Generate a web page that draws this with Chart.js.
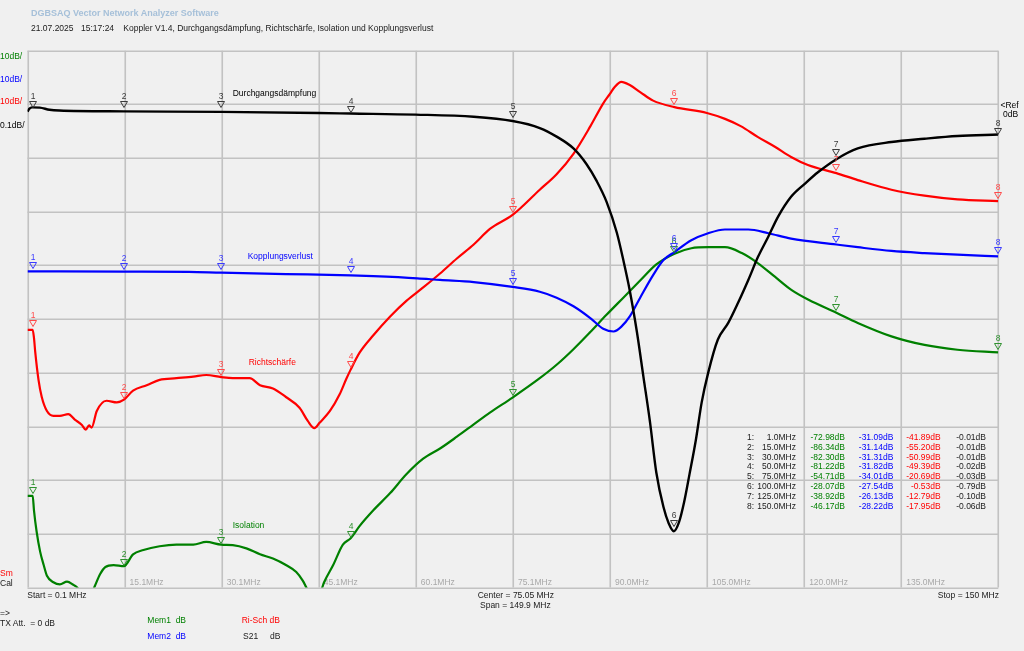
<!DOCTYPE html>
<html><head><meta charset="utf-8">
<script src="https://cdn.jsdelivr.net/npm/chart.js@4.4.1/dist/chart.umd.min.js"></script>
<style>
html,body{margin:0;padding:0;background:#f0f0f0;overflow:hidden;}
#wrap{position:relative;width:1024px;height:651px;background:#f0f0f0;}
canvas{display:block;position:absolute;left:0;top:0;}
.t{position:absolute;font-family:"Liberation Sans",Arial,sans-serif;font-size:8.5px;line-height:12px;height:12px;white-space:pre;color:#202020;}
</style></head><body>
<div id="wrap"><canvas id="c" width="1024" height="651"></canvas></div>
<script>
// ---------- data ----------
const xStart = 0.1, xStop = 150;
const xTickLabels = ['15.1MHz','30.1MHz','45.1MHz','60.1MHz','75.1MHz','90.0MHz','105.0MHz','120.0MHz','135.0MHz'];

const freqIso = [0.1,0.9,1.1,1.5,2.05,2.6,3.1,4.1,5.1,6.2,7.2,7.8,8.5,9.5,10.2,10.5,11.3,12.1,13.4,15.0,16.4,18.0,20.5,23.1,25.7,27.7,30.0,31.8,33.9,36.0,38.0,40.0,41.6,42.6,43.4,44.5,45.5,45.9,47.3,48.8,50.0,51.4,53.5,56.1,58.6,61.2,63.8,66.4,69.0,71.5,75.0,79.2,81.8,84.4,87.0,89.5,92.1,94.7,97.2,100.0,102.6,105.2,107.8,110.4,112.9,115.5,118.1,120.7,125.0,128.3,133.5,138.6,143.7,150.0];
const isolation = [-72.9,-72.9,-75.6,-79.5,-83.3,-85.8,-87.8,-89.0,-89.4,-88.9,-89.5,-90.0,-91.5,-92.0,-90.5,-89.7,-87.5,-86.2,-85.8,-86.0,-83.8,-83.0,-82.3,-82.0,-82.0,-81.5,-82.0,-82.1,-82.7,-83.8,-84.6,-85.8,-87.1,-88.7,-90.5,-92.0,-90.3,-89.0,-85.8,-82.0,-80.8,-78.5,-75.6,-72.4,-68.9,-66.0,-64.1,-61.9,-59.6,-57.4,-54.6,-51.0,-48.5,-45.6,-42.4,-39.2,-36.0,-32.8,-29.8,-27.8,-26.8,-26.6,-26.6,-27.7,-29.6,-32.1,-34.6,-36.4,-38.8,-40.7,-43.2,-44.8,-45.7,-46.2];

const freqCoup = [0.1,15.0,25.0,30.0,40.0,50.0,53.5,60.3,63.8,69.0,75.0,79.2,81.8,84.4,87.0,89.0,90.6,91.8,93.1,94.7,96.7,98.3,100.0,102.6,105.2,107.8,111.4,114.5,118.0,125.0,128.3,133.5,138.6,143.7,150.0];
const coupling = [-31.1,-31.15,-31.2,-31.35,-31.6,-31.85,-32.0,-32.4,-32.7,-33.1,-34.0,-34.9,-36.0,-37.6,-39.8,-41.8,-42.3,-41.4,-39.5,-36.0,-31.8,-29.0,-27.5,-25.3,-24.0,-23.3,-23.3,-24.0,-25.0,-26.1,-26.6,-27.3,-27.7,-28.0,-28.3];

const freqDir = [0.1,0.9,1.1,1.3,1.8,2.3,3.1,4.1,5.1,6.4,7.4,8.5,9.1,9.6,10.0,10.8,12.3,13.9,15.0,16.4,18.5,20.5,23.1,25.7,27.7,30.0,31.8,34.4,36.0,38.0,40.0,42.1,43.4,44.4,45.2,46.8,48.3,49.3,50.0,51.4,53.5,56.1,58.6,61.2,63.8,66.4,69.0,71.5,75.0,79.2,81.8,84.4,87.0,89.0,90.0,90.8,91.8,93.1,94.7,96.7,100.0,105.0,107.8,110.3,112.9,115.5,118.0,120.6,125.0,128.3,133.5,138.6,143.7,150.0];
const directivity = [-42.0,-42.0,-43.5,-46.2,-51.3,-54.5,-57.1,-58.0,-58.0,-57.7,-58.7,-59.7,-60.6,-59.8,-60.2,-57.1,-55.2,-55.5,-55.0,-53.3,-52.3,-51.3,-51.0,-50.7,-50.4,-50.8,-51.0,-51.0,-52.3,-52.9,-54.5,-56.5,-59.0,-60.3,-59.3,-57.1,-54.0,-51.2,-49.4,-46.2,-43.0,-39.5,-36.6,-34.1,-31.5,-28.7,-26.1,-23.2,-20.6,-15.9,-13.0,-9.2,-4.1,0.2,1.9,3.3,4.2,3.6,2.3,0.7,-0.5,-1.6,-2.7,-4.1,-6.1,-7.9,-9.8,-11.3,-12.8,-14.1,-15.9,-17.0,-17.7,-18.0];

const freqS21 = [0.1,0.4,0.8,2.0,3.5,5.0,15.0,30.0,45.0,50.0,60.0,69.0,75.0,79.2,81.8,84.4,86.4,88.0,89.5,91.1,92.1,93.1,94.2,95.2,96.2,97.2,98.3,99.1,99.9,100.7,101.5,102.3,103.3,104.2,105.2,106.7,108.3,109.8,111.4,112.9,114.5,116.0,118.0,120.2,122.2,125.0,128.3,133.5,138.6,143.7,150.0];
const s21 = [-0.0136,-0.008,-0.0055,-0.006,-0.010,-0.0115,-0.013,-0.014,-0.016,-0.017,-0.019,-0.023,-0.031,-0.044,-0.060,-0.082,-0.111,-0.143,-0.181,-0.239,-0.290,-0.347,-0.424,-0.507,-0.590,-0.686,-0.750,-0.780,-0.795,-0.778,-0.740,-0.690,-0.625,-0.555,-0.500,-0.438,-0.407,-0.370,-0.327,-0.284,-0.246,-0.209,-0.172,-0.147,-0.126,-0.102,-0.082,-0.070,-0.064,-0.059,-0.056];

const markerFreqs = [1.0,15.0,30.0,50.0,75.0,100.0,125.0,150.0];
const markerIsolation = [-72.98,-86.34,-82.30,-81.22,-54.71,-28.07,-38.92,-46.17];
const markerCoupling = [-31.09,-31.14,-31.31,-31.82,-34.01,-27.54,-26.13,-28.22];
const markerDirectivity = [-41.89,-55.20,-50.99,-49.39,-20.69,-0.53,-12.79,-17.95];
const markerS21 = [-0.01,-0.01,-0.01,-0.02,-0.03,-0.79,-0.10,-0.06];

const seriesNames = ['Durchgangsdämpfung','Kopplungsverlust','Richtschärfe','Isolation'];

// ---------- colors ----------
const C_GREEN='#008000', C_BLUE='#0000ff', C_RED='#ff0000', C_BLACK='#000000';

function pairs(xs, ys){ return xs.map((x,i)=>({x:x,y:ys[i]})); }

// ---------- plugins ----------
const gridPlugin = {
  id:'vnaGrid',
  beforeDatasetsDraw(chart){
    const {ctx, chartArea:a, scales} = chart;
    const x = scales.x, y = scales.y;
    ctx.save();
    ctx.strokeStyle = '#c2c2c2';
    ctx.lineWidth = 1.6;
    for(let k=0;k<=10;k++){
      const px = Math.round(x.getPixelForValue(xStart + k*(xStop-xStart)/10))+0.25;
      ctx.beginPath(); ctx.moveTo(px,a.top); ctx.lineTo(px,a.bottom); ctx.stroke();
      const py = Math.round(y.getPixelForValue(10 - k*10))+0.25;
      ctx.beginPath(); ctx.moveTo(a.left,py); ctx.lineTo(a.right,py); ctx.stroke();
    }
    ctx.fillStyle = '#a8a8a8';
    ctx.font = '8.5px "Liberation Sans", Arial, sans-serif';
    ctx.textBaseline = 'middle';
    ctx.textAlign = 'left';
    xTickLabels.forEach((lab,i)=>{
      const px = x.getPixelForValue(xStart + (i+1)*(xStop-xStart)/10);
      ctx.fillText(lab, px+5, a.bottom-5);
    });
    ctx.restore();
  },
  afterDatasetsDraw(chart){
    const {ctx, scales} = chart;
    const x = scales.x;
    const sets = [
      {vals:markerIsolation, scale:scales.y, col:'#2f912f'},
      {vals:markerCoupling, scale:scales.y, col:'#3a3aff'},
      {vals:markerDirectivity, scale:scales.y, col:'#ff4a4a'},
      {vals:markerS21, scale:scales.yb, col:'#3a3a3a'}
    ];
    ctx.save();
    ctx.font = '8.5px "Liberation Sans", Arial, sans-serif';
    ctx.textAlign = 'center';
    ctx.textBaseline = 'middle';
    ctx.lineWidth = 1;
    sets.forEach(s=>{
      ctx.strokeStyle = s.col; ctx.fillStyle = s.col;
      markerFreqs.forEach((f,i)=>{
        const px = Math.round(x.getPixelForValue(f));
        const py = Math.round(s.scale.getPixelForValue(s.vals[i]));
        ctx.beginPath();
        ctx.moveTo(px-3.5, py-8.5);
        ctx.lineTo(px+3.5, py-8.5);
        ctx.lineTo(px, py-2.5);
        ctx.closePath();
        ctx.stroke();
        ctx.fillText(String(i+1), px, py-13);
      });
    });
    ctx.restore();
  }
};

const ds = (label, xs, ys, col, axis, w) => ({
  label, data: pairs(xs, ys), borderColor: col, backgroundColor: col,
  yAxisID: axis, borderWidth: w, pointRadius: 0, fill: false,
  cubicInterpolationMode: 'monotone'
});

new Chart(document.getElementById('c').getContext('2d'), {
  type:'line',
  data:{ datasets:[
    ds(seriesNames[0], freqS21, s21, C_BLACK, 'yb', 2.4),
    ds(seriesNames[1], freqCoup, coupling, C_BLUE, 'y', 2.2),
    ds(seriesNames[2], freqDir, directivity, C_RED, 'y', 2.2),
    ds(seriesNames[3], freqIso, isolation, C_GREEN, 'y', 2.2)
  ]},
  options:{
    responsive:false, animation:false, devicePixelRatio:1,
    layout:{padding:{left:27.5, right:25.7, top:50.7, bottom:63.4}},
    scales:{
      x:{type:'linear', min:xStart, max:xStop, display:false},
      y:{type:'linear', min:-90, max:10, display:false},
      yb:{type:'linear', min:-0.9, max:0.1, display:false}
    },
    plugins:{legend:{display:false}, tooltip:{enabled:false}, title:{display:false}},
    events:[]
  },
  plugins:[gridPlugin]
});

// ---------- text overlay ----------
const wrap = document.getElementById('wrap');
function txt(s, x, cy, color, opts){
  opts = opts || {};
  const d = document.createElement('div');
  d.className = 't';
  d.textContent = s;
  d.style.left = x + 'px';
  d.style.top = (cy - 6) + 'px';
  if(color) d.style.color = color;
  if(opts.bold) d.style.fontWeight = 'bold';
  if(opts.size) d.style.fontSize = opts.size + 'px';
  if(opts.align === 'right') d.style.transform = 'translateX(-100%)';
  if(opts.align === 'center') d.style.transform = 'translateX(-50%)';
  wrap.appendChild(d);
}

txt('DGBSAQ Vector Network Analyzer Software', 31, 13.3, '#a6c0d9', {bold:true, size:9});
txt('21.07.2025', 31, 28.3, '#202020');
txt('15:17:24', 81, 28.3, '#202020');
txt('Koppler V1.4, Durchgangsdämpfung, Richtschärfe, Isolation und Kopplungsverlust', 123.3, 28.3, '#202020');

txt('10dB/', 0, 56, C_GREEN);
txt('10dB/', 0, 78.7, C_BLUE);
txt('10dB/', 0, 101, C_RED);
txt('0.1dB/', 0, 125, '#000');

txt('<Ref', 1000.5, 104.5, '#000');
txt('0dB', 1003, 114, '#000');

txt(seriesNames[0], 232.7, 93, '#000');
txt(seriesNames[1], 247.7, 256, C_BLUE);
txt(seriesNames[2], 248.7, 362, C_RED);
txt(seriesNames[3], 232.7, 524.5, C_GREEN);

markerFreqs.forEach((f,i)=>{
  const cy = 436.7 + i*9.9;
  txt((i+1)+':', 754, cy, '#202020', {align:'right'});
  txt(f.toFixed(1)+'MHz', 796, cy, '#202020', {align:'right'});
  txt(markerIsolation[i].toFixed(2)+'dB', 845, cy, C_GREEN, {align:'right'});
  txt(markerCoupling[i].toFixed(2)+'dB', 893.3, cy, C_BLUE, {align:'right'});
  txt(markerDirectivity[i].toFixed(2)+'dB', 940.7, cy, C_RED, {align:'right'});
  txt(markerS21[i].toFixed(2)+'dB', 986, cy, '#202020', {align:'right'});
});

txt('Sm', 0, 573.3, C_RED);
txt('Cal', 0, 583.3, '#202020');
txt('Start = 0.1 MHz', 27.3, 595, '#202020');
txt('Center = 75.05 MHz', 477.7, 595, '#202020');
txt('Span = 149.9 MHz', 480, 605, '#202020');
txt('Stop = 150 MHz', 999, 595, '#202020', {align:'right'});
txt('=>', 0, 613.3, '#202020');
txt('TX Att.  = 0 dB', 0, 622.7, '#202020');
txt('Mem1  dB', 147.3, 620, C_GREEN);
txt('Mem2  dB', 147.3, 636, C_BLUE);
txt('Ri-Sch dB', 241.7, 620, C_RED);
txt('S21', 243, 636, '#202020');
txt('dB', 270, 636, '#202020');
</script>
</body></html>
